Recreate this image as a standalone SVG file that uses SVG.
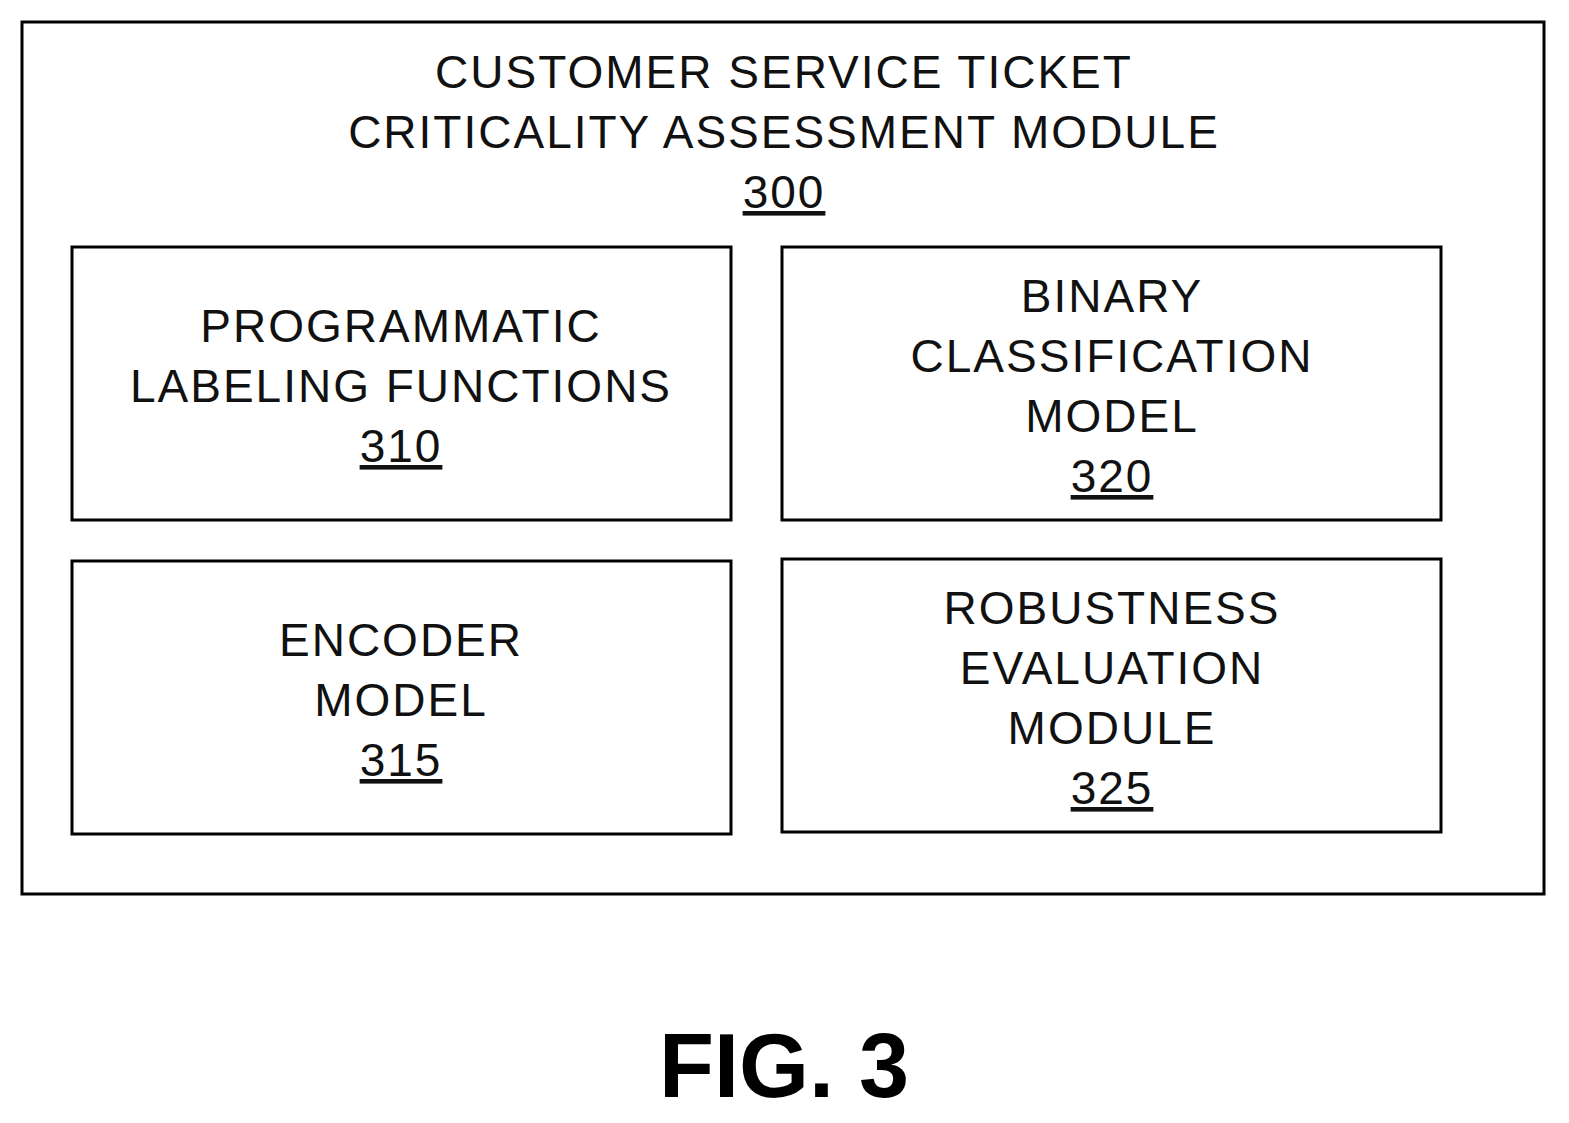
<svg xmlns="http://www.w3.org/2000/svg" width="1569" height="1123" viewBox="0 0 1569 1123">
<style>
.b{fill:#fff;stroke:#000;stroke-width:3}
.t{font-family:"Liberation Sans",Arial,sans-serif;font-size:46px;letter-spacing:2px;text-anchor:middle;fill:#111}
.u{text-decoration:underline}
</style>
<rect width="1569" height="1123" fill="#fff"/>
<g id="outer">
<rect class="b" x="22" y="22" width="1522" height="872"/>
<text class="t" x="784" y="88">CUSTOMER SERVICE TICKET</text>
<text class="t" x="784" y="148">CRITICALITY ASSESSMENT MODULE</text>
<text class="t u" x="784" y="208">300</text>
</g>
<g id="n310">
<rect class="b" x="72" y="247" width="659" height="273"/>
<text class="t" x="401" y="342">PROGRAMMATIC</text>
<text class="t" x="401" y="402">LABELING FUNCTIONS</text>
<text class="t u" x="401" y="462">310</text>
</g>
<g id="n320">
<rect class="b" x="782" y="247" width="659" height="273"/>
<text class="t" x="1112" y="312">BINARY</text>
<text class="t" x="1112" y="372">CLASSIFICATION</text>
<text class="t" x="1112" y="432">MODEL</text>
<text class="t u" x="1112" y="492">320</text>
</g>
<g id="n315">
<rect class="b" x="72" y="561" width="659" height="273"/>
<text class="t" x="401" y="656">ENCODER</text>
<text class="t" x="401" y="716">MODEL</text>
<text class="t u" x="401" y="776">315</text>
</g>
<g id="n325">
<rect class="b" x="782" y="559" width="659" height="273"/>
<text class="t" x="1112" y="624">ROBUSTNESS</text>
<text class="t" x="1112" y="684">EVALUATION</text>
<text class="t" x="1112" y="744">MODULE</text>
<text class="t u" x="1112" y="804">325</text>
</g>
<g id="connectors"/>
<text x="784" y="1097" style="font-family:'Liberation Sans',Arial,sans-serif;font-size:90px;font-weight:bold;text-anchor:middle">FIG. 3</text>
</svg>
